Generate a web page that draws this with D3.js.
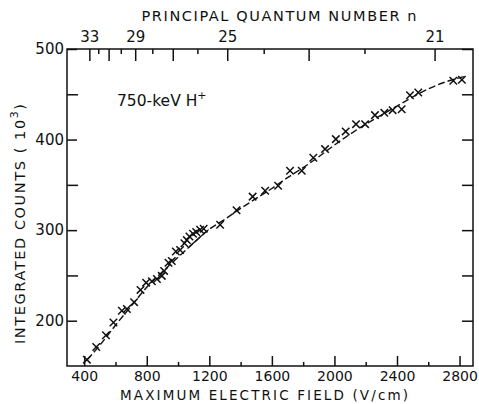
<!DOCTYPE html>
<html>
<head>
<meta charset="utf-8">
<script src="https://cdn.jsdelivr.net/npm/d3@7"></script>
<style>
  body { margin: 0; background: #fff; }
  text { font-family: "DejaVu Sans", sans-serif; fill: #111; }
</style>
</head>
<body>
<svg id="chart" width="479" height="404"></svg>
<script>
// Measured integrated counts (thousands) versus maximum electric field (V/cm)
const fieldValues = [417, 477, 539, 587, 641, 673, 719, 760, 796, 833, 865, 896, 911, 939, 960,
  986, 1013, 1041, 1056, 1073, 1096, 1116, 1141, 1164, 1269, 1374, 1477, 1557, 1640, 1716,
  1791, 1865, 1940, 2009, 2072, 2138, 2196, 2259, 2319, 2372, 2430, 2483, 2536, 2760, 2815];
const countValues = [157, 171, 184, 198, 211, 213, 220.5, 234, 242, 243.5, 246, 249.5, 255, 264, 266,
  276.5, 278, 285.5, 289, 293, 296, 298, 300.5, 301.5, 306, 322, 337, 343.5, 349, 365.5,
  365.5, 380, 389.5, 400.5, 409, 417, 417, 427, 429.5, 432.5, 433.5, 449, 452, 465, 466];

// Smooth trend curve drawn through the measurements
const fitField  = [420, 500, 600, 700, 800, 900, 1000, 1100, 1200, 1300, 1400, 1500, 1600, 1700,
  1800, 1900, 2000, 2100, 2200, 2300, 2400, 2500, 2600, 2700, 2840];
const fitCounts = [157, 173, 195, 216, 237, 254, 270, 286, 301, 312, 324, 335, 346, 358,
  369, 381, 394, 406, 417, 427, 437, 447, 456, 463, 470];
// Part of the trend curve that is drawn solid
const solidRange = [1070, 1195];

const xTicks = [400, 800, 1200, 1600, 2000, 2400, 2800];
const xMinorTicks = [600, 1000, 1400, 1800, 2200, 2600];
const yTicks = [200, 300, 400, 500];
const yMinorTicks = [250, 350, 450];
const nTicks = [33, 32, 31, 30, 29, 28, 27, 26, 25, 24, 23, 22, 21];
const nLabels = [33, 29, 25, 21];
// Field at which level n is reached: F = K / n^4
const fieldConstant = 5.135e8;

const svg = d3.select("#chart");
const plotLeft = 67, plotRight = 473, plotTop = 49, plotBottom = 366;
const labelSize = 15;

const x = d3.scaleLinear().domain([290, 2886]).range([plotLeft, plotRight]);
const y = d3.scaleLinear().domain([150, 500]).range([plotBottom, plotTop]);
const nToField = n => fieldConstant / Math.pow(n, 4);

// Bottom axis: labelled majors and short minors, ticks pointing into the plot
svg.append("g").attr("class", "xaxis").attr("transform", `translate(0,${plotBottom})`)
  .call(d3.axisBottom(x).tickValues(xTicks).tickSizeInner(-10).tickSizeOuter(0).tickPadding(5.5)
    .tickFormat(d3.format("d")));
svg.append("g").attr("transform", `translate(0,${plotBottom})`)
  .call(d3.axisBottom(x).tickValues(xMinorTicks).tickSizeInner(-4).tickSizeOuter(0).tickFormat(""));

// Left axis
svg.append("g").attr("transform", `translate(${plotLeft},0)`)
  .call(d3.axisLeft(y).tickValues(yTicks).tickSizeInner(-10).tickSizeOuter(0).tickPadding(3)
    .tickFormat(d3.format("d")));
svg.append("g").attr("transform", `translate(${plotLeft},0)`)
  .call(d3.axisLeft(y).tickValues(yMinorTicks).tickSizeInner(-11).tickSizeOuter(0).tickFormat(""));

// Right axis, ticks only
svg.append("g").attr("transform", `translate(${plotRight},0)`)
  .call(d3.axisRight(y).tickValues(yTicks.concat(yMinorTicks)).tickSizeInner(-11).tickSizeOuter(0).tickFormat(""));

// Top axis in principal quantum number n
svg.append("g").attr("transform", `translate(0,${plotTop})`)
  .call(d3.axisTop(x).tickValues(nTicks.filter(n => n % 2 === 1).map(nToField))
    .tickSizeInner(-12).tickSizeOuter(0).tickPadding(7)
    .tickFormat(f => {
      const n = Math.round(Math.pow(fieldConstant / f, 0.25));
      return nLabels.includes(n) ? String(n) : "";
    }));
svg.append("g").attr("transform", `translate(0,${plotTop})`)
  .call(d3.axisTop(x).tickValues(nTicks.filter(n => n % 2 === 0).map(nToField))
    .tickSizeInner(-5).tickSizeOuter(0).tickFormat(""));

svg.selectAll(".domain").remove();
svg.selectAll(".tick line").attr("stroke", "#111").attr("stroke-width", 1.5);
svg.selectAll(".tick text").attr("font-family", "DejaVu Sans").attr("font-size", labelSize).attr("fill", "#111");
svg.selectAll(".xaxis .tick text").attr("font-size", 14);

// Frame
svg.append("rect")
  .attr("x", plotLeft).attr("y", plotTop)
  .attr("width", plotRight - plotLeft).attr("height", plotBottom - plotTop)
  .attr("fill", "none").attr("stroke", "#111").attr("stroke-width", 1.5);

// Trend curve
const fitData = fitField.map((f, i) => [f, fitCounts[i]]);
const line = d3.line().x(d => x(d[0])).y(d => y(d[1])).curve(d3.curveMonotoneX);
svg.append("path").datum(fitData)
  .attr("d", line).attr("fill", "none").attr("stroke", "#111")
  .attr("stroke-width", 1.4).attr("stroke-dasharray", "7,3");
svg.append("clipPath").attr("id", "solidPart").append("rect")
  .attr("x", x(solidRange[0])).attr("y", plotTop)
  .attr("width", x(solidRange[1]) - x(solidRange[0])).attr("height", plotBottom - plotTop);
svg.append("path").datum(fitData)
  .attr("d", line).attr("fill", "none").attr("stroke", "#111")
  .attr("stroke-width", 1.4).attr("clip-path", "url(#solidPart)");

// Data markers
const sym = d3.symbol().type(d3.symbolTimes).size(38);
svg.append("g").selectAll("path.pt")
  .data(fieldValues.map((f, i) => [f, countValues[i]]))
  .join("path").attr("class", "pt")
  .attr("transform", d => `translate(${x(d[0])},${y(d[1])})`)
  .attr("d", sym).attr("fill", "none").attr("stroke", "#111").attr("stroke-width", 1.5);

// Titles
svg.append("text").attr("x", 279).attr("y", 21).attr("text-anchor", "middle")
  .attr("font-size", 14.5).attr("textLength", 275).attr("lengthAdjust", "spacing")
  .text("PRINCIPAL QUANTUM NUMBER n");
svg.append("text").attr("x", 264).attr("y", 399.5).attr("text-anchor", "middle")
  .attr("font-size", 13.5).attr("textLength", 288).attr("lengthAdjust", "spacing")
  .text("MAXIMUM ELECTRIC FIELD (V/cm)");
const yt = svg.append("text").attr("transform", "translate(25,224) rotate(-90)")
  .attr("text-anchor", "middle").attr("font-size", 14.5)
  .attr("textLength", 240).attr("lengthAdjust", "spacing");
yt.append("tspan").text("INTEGRATED COUNTS ( 10");
yt.append("tspan").attr("dy", -7).attr("font-size", 11).text("3");
yt.append("tspan").attr("dy", 7).text(")");

// Beam label
const bl = svg.append("text").attr("x", 117).attr("y", 106).attr("font-size", 15.5);
bl.append("tspan").text("750-keV  H");
bl.append("tspan").attr("dy", -7).attr("font-size", 11).text("+");
</script>
</body>
</html>
